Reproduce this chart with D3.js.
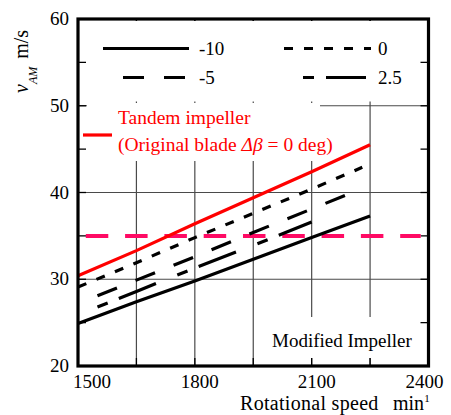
<!DOCTYPE html>
<html>
<head>
<meta charset="utf-8">
<script src="https://cdn.jsdelivr.net/npm/d3@7"></script>
<style>
  body { margin: 0; background: #fff; }
</style>
</head>
<body>
<div id="chart"></div>
<script>
// Data
const rpm10 = [1500, 1650, 1800, 1950, 2100, 2250];
const v10 = [24.9, 27.4, 29.8, 32.3, 34.8, 37.3];

const rpm0 = [1500, 1650, 1800, 1950, 2100, 2230];
const v0 = [29.1, 31.9, 34.8, 37.6, 40.4, 42.9];

const rpm5 = [1550, 1650, 1800, 1950, 2100, 2215];
const v5 = [28.1, 29.9, 32.6, 35.4, 38.1, 40.2];

const rpm25 = [1550, 1650, 1800, 1950, 2100];
const v25 = [26.8, 28.6, 31.3, 33.9, 36.6];

const rpmTandem = [1500, 1650, 1800, 1950, 2100, 2250];
const vTandem = [30.4, 33.3, 36.4, 39.4, 42.4, 45.5];

const rpmRef = [1520, 2380];
const vRef = [35, 35];

const xTickLabels = [1500, 1800, 2100, 2400];
const yTickLabels = [20, 30, 40, 50, 60];
const xGrid = [1650, 1800, 1950, 2100, 2250];
const yGrid = [30, 40, 50];
const xMinor = [1650, 1800, 1950, 2100, 2250];
const yMinor = [25, 30, 35, 40, 45, 50, 55];

const legendLabels = ["-10", "0", "-5", "2.5"];

// Styles
const dashes = {
  "-10": null,
  "0": "9,11",
  "-5": "21,20",
  "2.5": "11,12,40,23"
};

// pick the first serif face that is really installed
function pickFont(names) {
  const ctx = document.createElement("canvas").getContext("2d");
  const probe = "Rotational speed 1500 mmmWWiil";
  const widthOf = f => { ctx.font = f; return ctx.measureText(probe).width; };
  for (const n of names) {
    const a = widthOf(`40px "${n}", monospace`), b = widthOf("40px monospace");
    const c = widthOf(`40px "${n}", sans-serif`), e = widthOf("40px sans-serif");
    if (a !== b && c !== e) return `"${n}"`;
  }
  return "serif";
}
const serif = pickFont(["Liberation Serif", "Tinos", "Times New Roman", "Nimbus Roman",
  "Nimbus Roman No9 L", "Times", "DejaVu Serif", "Noto Serif", "FreeSerif"]);

const width = 451, height = 415;
const x = d3.scaleLinear().domain([1500, 2400]).range([78, 428.5]);
const y = d3.scaleLinear().domain([20, 60]).range([366, 19]);

const svg = d3.select("#chart").append("svg")
  .attr("width", width)
  .attr("height", height)
  .style("font-family", serif);

// gridlines
svg.append("g").selectAll("line").data(xGrid).join("line")
  .attr("x1", d => x(d)).attr("x2", d => x(d))
  .attr("y1", y(20)).attr("y2", y(60))
  .attr("stroke", "#4a4a4a").attr("stroke-width", 1.2);
svg.append("g").selectAll("line").data(yGrid).join("line")
  .attr("x1", x(1500)).attr("x2", x(2400))
  .attr("y1", d => y(d)).attr("y2", d => y(d))
  .attr("stroke", "#4a4a4a").attr("stroke-width", 1.2);

// inner ticks on all four sides
const tickLen = 8;
const ticks = svg.append("g").attr("stroke", "#000").attr("stroke-width", 1.3);
yMinor.forEach(v => {
  ticks.append("line").attr("x1", x(1500)).attr("x2", x(1500) + tickLen).attr("y1", y(v)).attr("y2", y(v));
  ticks.append("line").attr("x1", x(2400) - tickLen).attr("x2", x(2400)).attr("y1", y(v)).attr("y2", y(v));
});
xMinor.forEach(r => {
  ticks.append("line").attr("x1", x(r)).attr("x2", x(r)).attr("y1", y(20)).attr("y2", y(20) - tickLen);
  ticks.append("line").attr("x1", x(r)).attr("x2", x(r)).attr("y1", y(60)).attr("y2", y(60) + tickLen);
});

// white backgrounds behind the legends and the note
svg.append("rect").attr("x", 87).attr("y", 21).attr("width", 331).attr("height", 80.5).attr("fill", "#fff");
svg.append("rect").attr("x", 87).attr("y", 103).attr("width", 233).attr("height", 58).attr("fill", "#fff");
svg.append("rect").attr("x", 262).attr("y", 317).attr("width", 156).attr("height", 41).attr("fill", "#fff");

const line = d3.line().x(d => x(d[0])).y(d => y(d[1]));
const zip = (a, b) => a.map((v, i) => [v, b[i]]);

// reference level
svg.append("path")
  .datum(zip(rpmRef, vRef))
  .attr("d", line)
  .attr("fill", "none")
  .attr("stroke", "#ff0a64")
  .attr("stroke-width", 4)
  .attr("stroke-dasharray", "22.5,16.8");

// modified impeller series
const series = [
  { key: "-10", pts: zip(rpm10, v10) },
  { key: "0", pts: zip(rpm0, v0) },
  { key: "-5", pts: zip(rpm5, v5) },
  { key: "2.5", pts: zip(rpm25, v25) }
];
svg.append("g").selectAll("path").data(series).join("path")
  .attr("d", d => line(d.pts))
  .attr("fill", "none")
  .attr("stroke", "#000")
  .attr("stroke-width", 3.2)
  .attr("stroke-dasharray", d => dashes[d.key]);

// tandem impeller
svg.append("path")
  .datum(zip(rpmTandem, vTandem))
  .attr("d", line)
  .attr("fill", "none")
  .attr("stroke", "#ff0000")
  .attr("stroke-width", 3.2);

// legend for modified impeller
const legendPos = [
  { x1: 103, x2: 189, y: 48.5, tx: 199 },
  { x1: 284, x2: 371, y: 48.5, tx: 378 },
  { x1: 123, x2: 186, y: 77.5, tx: 199 },
  { x1: 303, x2: 366, y: 77.5, tx: 378 }
];
const leg = svg.append("g");
legendLabels.forEach((lab, i) => {
  const p = legendPos[i];
  leg.append("line")
    .attr("x1", p.x1).attr("x2", p.x2).attr("y1", p.y).attr("y2", p.y)
    .attr("stroke", "#000").attr("stroke-width", 3.2)
    .attr("stroke-dasharray", dashes[lab]);
  leg.append("text")
    .attr("x", p.tx).attr("y", p.y + 6)
    .attr("font-size", 19)
    .text(lab);
});

// tandem legend
svg.append("line")
  .attr("x1", 83).attr("x2", 112).attr("y1", 135).attr("y2", 135)
  .attr("stroke", "#ff0000").attr("stroke-width", 3.2);
svg.append("text")
  .attr("x", 118).attr("y", 124)
  .attr("font-size", 19.5).attr("fill", "#ff0000")
  .text("Tandem impeller");
const t2 = svg.append("text")
  .attr("x", 118).attr("y", 151)
  .attr("font-size", 19.5).attr("fill", "#ff0000");
t2.append("tspan").text("(Original blade ");
t2.append("tspan").attr("font-style", "italic").text("Δβ");
t2.append("tspan").text(" = 0 deg)");

svg.append("text")
  .attr("x", 272).attr("y", 347)
  .attr("font-size", 19)
  .text("Modified Impeller");

// frame
svg.append("rect")
  .attr("x", x(1500)).attr("y", y(60))
  .attr("width", x(2400) - x(1500)).attr("height", y(20) - y(60))
  .attr("fill", "none").attr("stroke", "#000").attr("stroke-width", 3.2);

// tick labels
svg.append("g").selectAll("text").data(xTickLabels).join("text")
  .attr("x", (d, i) => i === 0 ? x(d) - 5 : i === xTickLabels.length - 1 ? x(d) + 15 : x(d) + 5)
  .attr("y", 388)
  .attr("text-anchor", (d, i) => i === 0 ? "start" : i === xTickLabels.length - 1 ? "end" : "middle")
  .attr("font-size", 19)
  .text(d => d);
svg.append("g").selectAll("text").data(yTickLabels).join("text")
  .attr("x", 69)
  .attr("y", d => y(d))
  .attr("dy", "0.32em")
  .attr("text-anchor", "end")
  .attr("font-size", 19)
  .text(d => d);

// axis titles
const xt = svg.append("text").attr("x", 240).attr("y", 410).attr("font-size", 20);
xt.append("tspan").attr("letter-spacing", 0.3).text("Rotational speed");
xt.append("tspan").attr("x", 393).text("min");
xt.append("tspan").attr("font-size", 11).attr("dy", -8).text("1");

const yt = svg.append("text")
  .attr("transform", "translate(28,93) rotate(-90)")
  .attr("font-size", 20);
yt.append("tspan").attr("font-style", "italic").text("v");
yt.append("tspan").attr("font-style", "italic").attr("font-size", 12).attr("dy", 9).text("AM");
yt.append("tspan").attr("dy", -9).attr("dx", 8).text("m/s");
</script>
</body>
</html>
